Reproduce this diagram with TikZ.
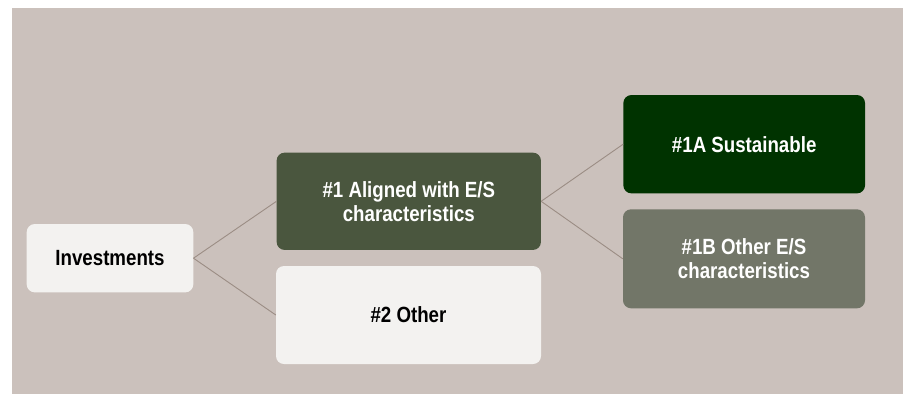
\documentclass[tikz,border=0pt]{standalone}
\usepackage{fontspec}
\setmainfont[FakeStretch=0.85]{Liberation Sans}
\definecolor{bgbeige}{RGB}{203,193,188}
\definecolor{boxlight}{RGB}{243,242,240}
\definecolor{boxolive}{RGB}{74,86,62}
\definecolor{boxgreen}{RGB}{0,51,0}
\definecolor{boxgrey}{RGB}{114,118,104}
\definecolor{linkgrey}{RGB}{155,141,132}
\tikzset{
  catbox/.style={rounded corners=8pt, inner sep=0pt, align=center,
    font=\fontsize{22}{24}\selectfont\bfseries},
  lightbox/.style={catbox, fill=boxlight, text=black},
  darkbox/.style={catbox, text=white},
  link/.style={draw=linkgrey, line width=0.9pt}
}
\begin{document}
\begin{tikzpicture}[x=1pt,y=1pt,yscale=-1]
\useasboundingbox (0,0) rectangle (903,394);

%Background
\fill [bgbeige] (12,8) rectangle (903,394);

% Text Node
\node [lightbox, minimum width=166.6, minimum height=68.3] (inv) at (110,258.2) {Investments};
% Text Node
\node [darkbox, fill=boxolive, minimum width=264.3, minimum height=97.3] (align) at (408.8,201.3) {\#1 Aligned with E/S\\characteristics};
% Text Node
\node [lightbox, minimum width=265, minimum height=98] (other) at (408.5,315) {\#2 Other};
% Text Node
\node [darkbox, fill=boxgreen, minimum width=241.7, minimum height=98.3] (sust) at (744.2,144.2) {\#1A Sustainable};
% Text Node
\node [darkbox, fill=boxgrey, minimum width=242, minimum height=99] (es) at (744,258.8) {\#1B Other E/S\\characteristics};

%Straight Lines
\draw [link] (inv.east) -- (align.west) ;
\draw [link] (inv.east) -- (other.west) ;
\draw [link] (align.east) -- (sust.west) ;
\draw [link] (align.east) -- (es.west) ;

\end{tikzpicture}
\end{document}
